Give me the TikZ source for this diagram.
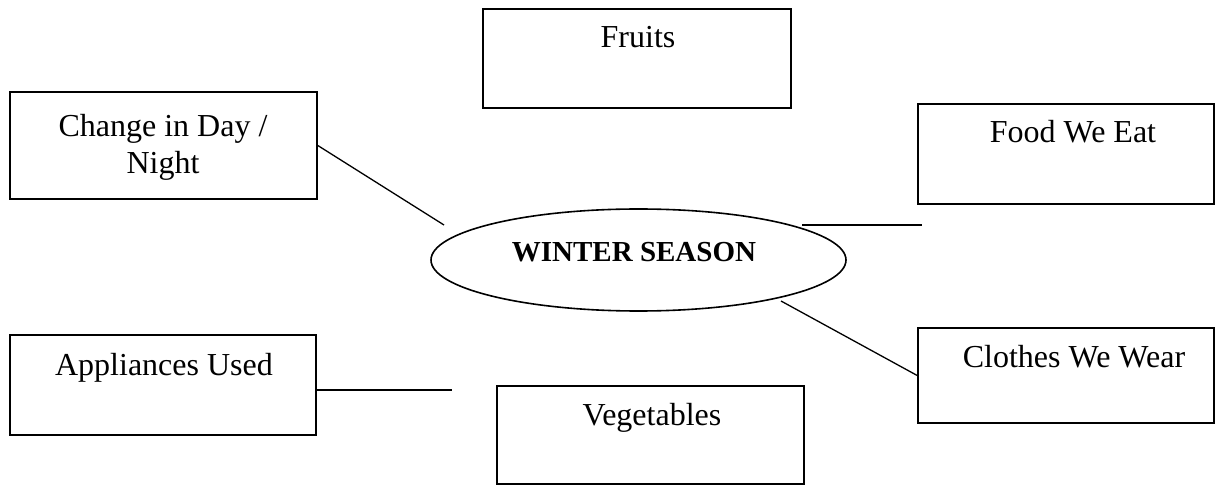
\documentclass[tikz,border=0pt]{standalone}
\usepackage{fontspec}
\setmainfont{Liberation Serif}
\usetikzlibrary{shapes.geometric}

\begin{document}
\begin{tikzpicture}[x=0.5pt,y=-0.5pt,
    box/.style={draw,line width=0.8pt,rectangle,inner sep=0pt,minimum width=#1},
    txt/.style={anchor=base,inner sep=0pt,font=\fontsize{16}{18.5}\selectfont,align=center},
    link/.style={line width=0.65pt}]
        \useasboundingbox (0,0) rectangle (1216,486);
        \node[box=154pt,minimum height=49.5pt] (fruits) at (637,58.5) {};
        \node[box=153.5pt,minimum height=53.5pt] (change) at (163.5,145.5) {};
        \node[box=148pt,minimum height=50pt] (food) at (1066,154) {};
        \node[box=153pt,minimum height=50pt] (apps) at (163,385) {};
        \node[box=153.5pt,minimum height=49pt] (veg) at (650.5,435) {};
        \node[box=148pt,minimum height=47.5pt] (clothes) at (1066,375.5) {};
        \node[draw,line width=0.8pt,ellipse,inner sep=0pt,minimum width=207.5pt,minimum height=51pt] (season) at (638.5,260) {};

        \node[txt] (fruits-t) at (638,48) {Fruits};
        \node[txt] (change-t) at (163,174) {Change in Day /\\Night};
        \node[txt] (food-t) at (1073,143) {Food We Eat};
        \node[txt] (apps-t) at (164,375) {Appliances Used};
        \node[txt] (veg-t) at (652,425) {Vegetables};
        \node[txt] (clothes-t) at (1074,367) {Clothes We Wear};
        \node[anchor=base,inner sep=0pt,font=\bfseries\fontsize{14.5}{17}\selectfont] (season-t) at (634,262) {WINTER SEASON};

        \coordinate (change-end) at (444,225);
        \coordinate (food-a) at (802,225);
        \coordinate (food-b) at (922,225);
        \coordinate (clothes-end) at (781,301);
        \coordinate (apps-end) at (452,390);
        \draw[link] (change.east) -- (change-end);
        \draw[link] (food-a) -- (food-b);
        \draw[link] (clothes-end) -- (clothes.west);
        \draw[link] ([yshift=-2.5pt]apps.east) -- (apps-end);
      \end{tikzpicture}
\end{document}
